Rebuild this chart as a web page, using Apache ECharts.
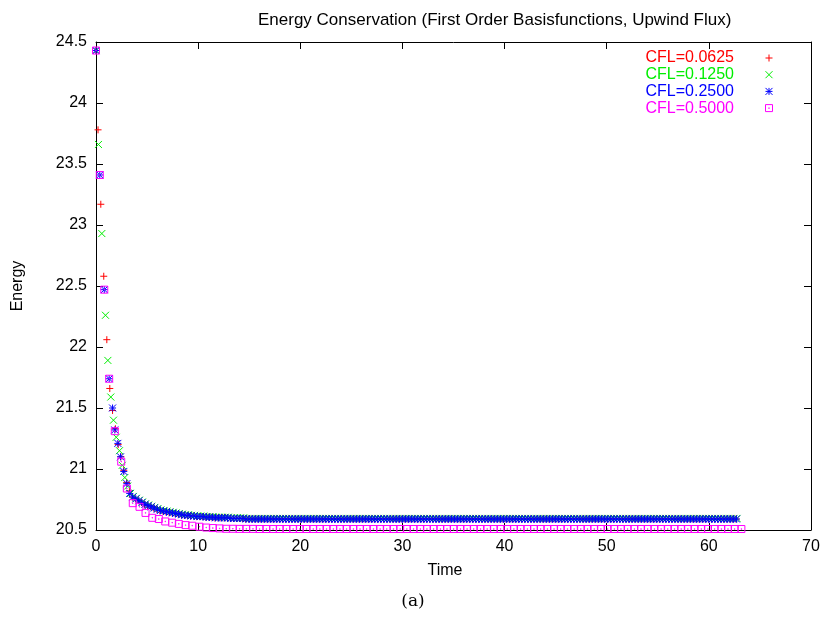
<!DOCTYPE html>
<html>
<head>
<meta charset="utf-8">
<script src="https://cdn.jsdelivr.net/npm/echarts@6/dist/echarts.min.js"></script>
<style>html,body{margin:0;padding:0;background:#fff}#c{width:826px;height:619px}</style>
</head>
<body>
<div id="c"></div>
<script>
// ---------- data ----------
const seriesNames = ['CFL=0.0625', 'CFL=0.1250', 'CFL=0.2500', 'CFL=0.5000'];
const xTicks = { min: 0, max: 70, interval: 10 };
const yTicks = { min: 20.5, max: 24.5, interval: 0.5 };

// CFL=0.0625 (red +)
const redTimeEarly = [0, 0.20, 0.47, 0.76, 1.06, 1.35, 1.62, 1.90, 2.17, 2.44, 2.72, 3.00, 3.27];
const redEnergyEarly = [24.43, 23.78, 23.17, 22.58, 22.06, 21.66, 21.48, 21.33, 21.20, 21.10, 20.99, 20.89, 20.82];
const redTailStart = 3.55, redTailStep = 0.3;
const redEnergyTail = [
  20.77, 20.755, 20.74, 20.725, 20.71, 20.70, 20.69, 20.68, 20.67, 20.66,
  20.655, 20.65, 20.645, 20.64, 20.635, 20.63, 20.625, 20.62, 20.62, 20.615,
  20.615, 20.61, 20.61, 20.61, 20.605, 20.605, 20.605, 20.60, 20.60, 20.60,
  20.60, 20.60, 20.595, 20.595, 20.595, 20.595, 20.595,
  20.59, 20.59, 20.59, 20.59, 20.59, 20.59, 20.59, 20.59, 20.59, 20.59, 20.59, 20.59, 20.59, 20.59, 20.59, 20.59, 20.59, 20.59, 20.59, 20.59,
  20.59, 20.59, 20.59, 20.59, 20.59, 20.59, 20.59, 20.59, 20.59, 20.59, 20.59, 20.59, 20.59, 20.59, 20.59, 20.59, 20.59, 20.59, 20.59, 20.59,
  20.59, 20.59, 20.59, 20.59, 20.59, 20.59, 20.59, 20.59, 20.59, 20.59, 20.59, 20.59, 20.59, 20.59, 20.59, 20.59, 20.59, 20.59, 20.59, 20.59,
  20.59, 20.59, 20.59, 20.59, 20.59, 20.59, 20.59, 20.59, 20.59, 20.59, 20.59, 20.59, 20.59, 20.59, 20.59, 20.59, 20.59, 20.59, 20.59, 20.59,
  20.59, 20.59, 20.59, 20.59, 20.59, 20.59, 20.59, 20.59, 20.59, 20.59, 20.59, 20.59, 20.59, 20.59, 20.59, 20.59, 20.59, 20.59, 20.59, 20.59,
  20.59, 20.59, 20.59, 20.59, 20.59, 20.59, 20.59, 20.59, 20.59, 20.59, 20.59, 20.59, 20.59, 20.59, 20.59, 20.59, 20.59, 20.59, 20.59, 20.59,
  20.59, 20.59, 20.59, 20.59, 20.59, 20.59, 20.59, 20.59, 20.59, 20.59, 20.59, 20.59, 20.59, 20.59, 20.59, 20.59, 20.59, 20.59, 20.59, 20.59,
  20.59, 20.59, 20.59, 20.59, 20.59, 20.59, 20.59, 20.59, 20.59, 20.59, 20.59, 20.59, 20.59, 20.59, 20.59, 20.59, 20.59, 20.59, 20.59, 20.59,
  20.59
];

// CFL=0.1250 (green x)
const greenTimeEarly = [0, 0.24, 0.57, 0.93, 1.16, 1.45, 1.71, 1.98, 2.30, 2.57, 2.82, 3.10, 3.38];
const greenEnergyEarly = [24.43, 23.66, 22.93, 22.26, 21.89, 21.59, 21.40, 21.26, 21.15, 21.03, 20.93, 20.86, 20.80];
const greenTailStart = 3.65, greenTailStep = 0.3;
const greenEnergyTail = [
  20.775, 20.76, 20.745, 20.73, 20.715, 20.705, 20.695, 20.685, 20.675, 20.665,
  20.66, 20.655, 20.65, 20.645, 20.64, 20.635, 20.63, 20.625, 20.625, 20.62,
  20.62, 20.615, 20.615, 20.615, 20.61, 20.61, 20.61, 20.605, 20.605, 20.605,
  20.605, 20.605, 20.60, 20.60, 20.60, 20.60, 20.60,
  20.595, 20.595, 20.595, 20.595, 20.595, 20.595, 20.595, 20.595, 20.595, 20.595, 20.595, 20.595, 20.595, 20.595, 20.595, 20.595, 20.595, 20.595, 20.595, 20.595,
  20.595, 20.595, 20.595, 20.595, 20.595, 20.595, 20.595, 20.595, 20.595, 20.595, 20.595, 20.595, 20.595, 20.595, 20.595, 20.595, 20.595, 20.595, 20.595, 20.595,
  20.595, 20.595, 20.595, 20.595, 20.595, 20.595, 20.595, 20.595, 20.595, 20.595, 20.595, 20.595, 20.595, 20.595, 20.595, 20.595, 20.595, 20.595, 20.595, 20.595,
  20.595, 20.595, 20.595, 20.595, 20.595, 20.595, 20.595, 20.595, 20.595, 20.595, 20.595, 20.595, 20.595, 20.595, 20.595, 20.595, 20.595, 20.595, 20.595, 20.595,
  20.595, 20.595, 20.595, 20.595, 20.595, 20.595, 20.595, 20.595, 20.595, 20.595, 20.595, 20.595, 20.595, 20.595, 20.595, 20.595, 20.595, 20.595, 20.595, 20.595,
  20.595, 20.595, 20.595, 20.595, 20.595, 20.595, 20.595, 20.595, 20.595, 20.595, 20.595, 20.595, 20.595, 20.595, 20.595, 20.595, 20.595, 20.595, 20.595, 20.595,
  20.595, 20.595, 20.595, 20.595, 20.595, 20.595, 20.595, 20.595, 20.595, 20.595, 20.595, 20.595, 20.595, 20.595, 20.595, 20.595, 20.595, 20.595, 20.595, 20.595,
  20.595, 20.595, 20.595, 20.595, 20.595, 20.595, 20.595, 20.595, 20.595, 20.595, 20.595, 20.595, 20.595, 20.595, 20.595, 20.595, 20.595, 20.595, 20.595, 20.595,
  20.595
];

// CFL=0.2500 (blue *)
const blueTimeEarly = [0, 0.37, 0.81, 1.29, 1.62, 1.84, 2.14, 2.40, 2.72, 3.02, 3.30];
const blueEnergyEarly = [24.43, 23.41, 22.47, 21.74, 21.50, 21.32, 21.21, 21.10, 20.98, 20.88, 20.80];
const blueTailStart = 3.6, blueTailStep = 0.3;
const blueEnergyTail = [
  20.77, 20.755, 20.74, 20.725, 20.71, 20.70, 20.69, 20.68, 20.67, 20.66,
  20.655, 20.65, 20.645, 20.64, 20.635, 20.63, 20.625, 20.62, 20.62, 20.615,
  20.615, 20.61, 20.61, 20.61, 20.605, 20.605, 20.605, 20.60, 20.60, 20.60,
  20.60, 20.60, 20.595, 20.595, 20.595, 20.595, 20.595,
  20.59, 20.59, 20.59, 20.59, 20.59, 20.59, 20.59, 20.59, 20.59, 20.59, 20.59, 20.59, 20.59, 20.59, 20.59, 20.59, 20.59, 20.59, 20.59, 20.59,
  20.59, 20.59, 20.59, 20.59, 20.59, 20.59, 20.59, 20.59, 20.59, 20.59, 20.59, 20.59, 20.59, 20.59, 20.59, 20.59, 20.59, 20.59, 20.59, 20.59,
  20.59, 20.59, 20.59, 20.59, 20.59, 20.59, 20.59, 20.59, 20.59, 20.59, 20.59, 20.59, 20.59, 20.59, 20.59, 20.59, 20.59, 20.59, 20.59, 20.59,
  20.59, 20.59, 20.59, 20.59, 20.59, 20.59, 20.59, 20.59, 20.59, 20.59, 20.59, 20.59, 20.59, 20.59, 20.59, 20.59, 20.59, 20.59, 20.59, 20.59,
  20.59, 20.59, 20.59, 20.59, 20.59, 20.59, 20.59, 20.59, 20.59, 20.59, 20.59, 20.59, 20.59, 20.59, 20.59, 20.59, 20.59, 20.59, 20.59, 20.59,
  20.59, 20.59, 20.59, 20.59, 20.59, 20.59, 20.59, 20.59, 20.59, 20.59, 20.59, 20.59, 20.59, 20.59, 20.59, 20.59, 20.59, 20.59, 20.59, 20.59,
  20.59, 20.59, 20.59, 20.59, 20.59, 20.59, 20.59, 20.59, 20.59, 20.59, 20.59, 20.59, 20.59, 20.59, 20.59, 20.59, 20.59, 20.59, 20.59, 20.59,
  20.59, 20.59, 20.59, 20.59, 20.59, 20.59, 20.59, 20.59, 20.59, 20.59, 20.59, 20.59, 20.59, 20.59, 20.59, 20.59, 20.59, 20.59, 20.59, 20.59,
  20.59
];

// CFL=0.5000 (magenta boxed dot)
const pinkTimeEarly = [0, 0.37, 0.81, 1.29, 1.84, 2.47, 3.02, 3.60, 4.26, 4.85, 5.51, 6.15, 6.78, 7.46, 8.11, 8.77, 9.42, 10.13, 10.79, 11.44, 12.10, 12.75, 13.40];
const pinkEnergyEarly = [24.43, 23.41, 22.47, 21.74, 21.31, 21.06, 20.84, 20.72, 20.69, 20.64, 20.60, 20.59, 20.57, 20.56, 20.55, 20.54, 20.535, 20.527, 20.52, 20.516, 20.513, 20.51, 20.51];
const pinkTailStart = 14.06, pinkTailStep = 0.655;
const pinkEnergyTail = [
  20.509, 20.509, 20.509, 20.508, 20.508, 20.508, 20.508, 20.508, 20.508, 20.508, 20.508, 20.508, 20.508, 20.508, 20.508, 20.508, 20.508, 20.508, 20.508, 20.508,
  20.508, 20.508, 20.508, 20.508, 20.508, 20.508, 20.508, 20.508, 20.508, 20.508, 20.508, 20.508, 20.508, 20.508, 20.508, 20.508, 20.508, 20.508, 20.508, 20.508,
  20.508, 20.508, 20.508, 20.508, 20.508, 20.508, 20.508, 20.508, 20.508, 20.508, 20.508, 20.508, 20.508, 20.508, 20.508, 20.508, 20.508, 20.508, 20.508, 20.508,
  20.508, 20.508, 20.508, 20.508, 20.508, 20.508, 20.508, 20.508, 20.508, 20.508, 20.508, 20.508, 20.508, 20.508, 20.508, 20.508
];

// ---------- build ----------
function buildPairs(tEarly, eEarly, tailStart, tailStep, eTail) {
  const out = tEarly.map((t, i) => [t, eEarly[i]]);
  eTail.forEach((e, i) => out.push([+(tailStart + i * tailStep).toFixed(3), e]));
  return out;
}
const FONT = 'Liberation Sans';
const colors = ['#ff0000', '#00ee00', '#0000ff', '#ff00ff'];
const symbols = [
  'path://M0,5L10,5M5,0L5,10',
  'path://M0,0L10,10M10,0L0,10',
  'path://M0,5L10,5M5,0L5,10M0,0L10,10M10,0L0,10',
  'path://M0,0L10,0L10,10L0,10ZM4.6,4.6L5.4,4.6L5.4,5.4L4.6,5.4Z'
];
const dataSets = [
  buildPairs(redTimeEarly, redEnergyEarly, redTailStart, redTailStep, redEnergyTail),
  buildPairs(greenTimeEarly, greenEnergyEarly, greenTailStart, greenTailStep, greenEnergyTail),
  buildPairs(blueTimeEarly, blueEnergyEarly, blueTailStart, blueTailStep, blueEnergyTail),
  buildPairs(pinkTimeEarly, pinkEnergyEarly, pinkTailStart, pinkTailStep, pinkEnergyTail)
];

const axisLine = { show: true, onZero: false, lineStyle: { color: '#000', width: 1 } };
const axisTick = { show: true, inside: true, length: 7, lineStyle: { color: '#000', width: 1 } };
const labelStyle = { fontSize: 16, color: '#000', fontFamily: FONT };

const chart = echarts.init(document.getElementById('c'), null, { renderer: 'canvas' });
chart.setOption({
  animation: false,
  backgroundColor: '#fff',
  title: [
    { text: 'Energy Conservation (First Order Basisfunctions, Upwind Flux)', left: 253, top: 7,
      textStyle: { fontSize: 17, fontWeight: 'normal', color: '#000', fontFamily: FONT } },
    { text: '(a)', left: 'center', top: 588,
      textStyle: { fontSize: 17, fontWeight: 'normal', color: '#000', fontFamily: 'DejaVu Serif' } }
  ],
  legend: {
    orient: 'vertical', right: 46, top: 45, align: 'right',
    itemWidth: 60, itemHeight: 7, itemGap: 0.7, selectedMode: false,
    itemStyle: { borderWidth: 1 },
    textStyle: { fontSize: 16, fontFamily: FONT, lineHeight: 16 },
    data: seriesNames.map((n, i) => ({ name: n, textStyle: { color: colors[i] } }))
  },
  grid: { left: 96, right: 15, top: 42, bottom: 89 },
  xAxis: [
    { type: 'value', position: 'bottom', min: xTicks.min, max: xTicks.max, interval: xTicks.interval,
      axisLine, axisTick, splitLine: { show: false },
      axisLabel: Object.assign({ margin: 9 }, labelStyle),
      name: 'Time', nameLocation: 'middle', nameGap: 33,
      nameTextStyle: Object.assign({ padding: [0, 17, 0, 0] }, labelStyle) },
    { type: 'value', position: 'top', min: xTicks.min, max: xTicks.max, interval: xTicks.interval,
      axisLine, axisTick, splitLine: { show: false }, axisLabel: { show: false } }
  ],
  yAxis: [
    { type: 'value', position: 'left', min: yTicks.min, max: yTicks.max, interval: yTicks.interval,
      axisLine, axisTick, splitLine: { show: false },
      axisLabel: Object.assign({ margin: 9 }, labelStyle),
      name: 'Energy', nameLocation: 'middle', nameGap: 70, nameTextStyle: labelStyle },
    { type: 'value', position: 'right', min: yTicks.min, max: yTicks.max, interval: yTicks.interval,
      axisLine, axisTick, splitLine: { show: false }, axisLabel: { show: false } }
  ],
  series: seriesNames.map((n, i) => ({
    name: n, type: 'scatter', xAxisIndex: 0, yAxisIndex: 0,
    symbol: symbols[i], symbolSize: 7,
    itemStyle: { color: 'none', borderColor: colors[i], borderWidth: 1, opacity: 1 },
    emphasis: { disabled: true },
    data: dataSets[i]
  }))
});
</script>
</body>
</html>
